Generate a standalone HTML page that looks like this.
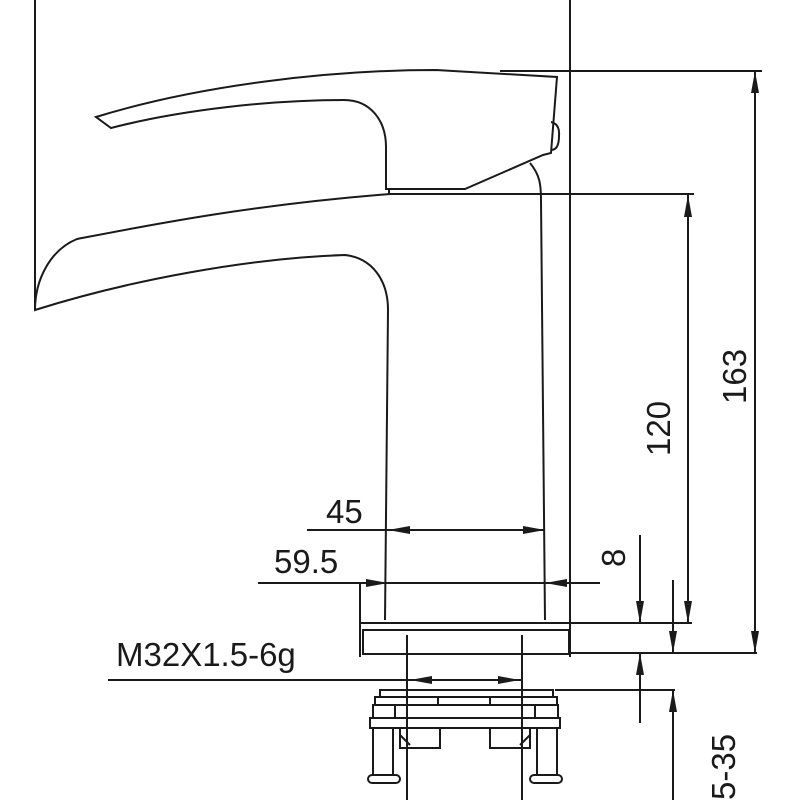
<!DOCTYPE html>
<html><head><meta charset="utf-8"><style>
html,body{margin:0;padding:0;background:#fff}
svg{display:block}
text{font-family:"Liberation Sans",sans-serif;fill:#1a1a1a}
</style></head><body>
<svg width="800" height="800" viewBox="0 0 800 800" xmlns="http://www.w3.org/2000/svg">
<defs>
<marker id="a" viewBox="0 0 22 8" refX="22" refY="4" markerWidth="22" markerHeight="8" orient="auto" markerUnits="userSpaceOnUse" preserveAspectRatio="none">
<path d="M0,0 L22,4 L0,8 z" fill="#1a1a1a"/></marker>
</defs>
<g fill="none" stroke="#1a1a1a" stroke-width="2">
<line x1="35" y1="0" x2="35" y2="310"/>
<line x1="570" y1="0" x2="570" y2="657"/>
<line x1="500" y1="71" x2="762" y2="71"/>
<line x1="390" y1="194" x2="694" y2="194"/>
<path d="M96,117 C200,85 330,70 436,70 L557,77 L551,153 L543,155 L465,189 L386,189 L386,147 C386,120 370,100 344,100 C270,100 180,110 111,128 Z"/>
<path d="M551,122 Q560,124 559,136 Q559,150 551,150"/>
<path d="M390,194 C250,205 150,225 77,239 C50,250 35,280 35,310 C130,280 250,258 345,255 C372,258 388,280 388,310 L385,620"/>
<path d="M530,163 C540,175 541,185 541,200 L545,620"/>
<line x1="389" y1="189" x2="389" y2="194"/>
<line x1="360" y1="583" x2="360" y2="657"/>
<line x1="360" y1="623" x2="692" y2="623"/>
<rect x="363" y="630" width="206" height="24"/>
<line x1="570" y1="653" x2="757" y2="653"/>
<line x1="407" y1="635" x2="407" y2="800"/>
<line x1="522" y1="635" x2="522" y2="800"/>
<rect x="380" y="690" width="173" height="7"/>
<path d="M375,705 L375,697 L438,697 L438,705 M490,705 L490,697 L557,697 L557,705"/>
<rect x="373" y="705" width="185" height="13"/>
<rect x="370" y="718" width="190" height="10"/>
<line x1="395" y1="705" x2="395" y2="718"/><line x1="535" y1="705" x2="535" y2="718"/>
<rect x="373" y="728" width="20" height="47"/>
<rect x="537" y="728" width="20" height="47"/>
<rect x="368" y="775" width="32" height="8" rx="4"/>
<rect x="530" y="775" width="32" height="8" rx="4"/>
<path d="M400,728 L400,748 L440,748 L440,728 M400,735 L410,745"/>
<path d="M490,728 L490,748 L530,748 L530,728 M530,735 L520,745"/>
<line x1="307" y1="530" x2="545" y2="530"/>
<line x1="450" y1="530" x2="388" y2="530" marker-end="url(#a)"/>
<line x1="470" y1="530" x2="545" y2="530" marker-end="url(#a)"/>
<line x1="258" y1="583" x2="572" y2="583"/>
<line x1="300" y1="583" x2="388" y2="583" marker-end="url(#a)"/>
<line x1="600" y1="583" x2="545" y2="583" marker-end="url(#a)"/>
<line x1="108" y1="680" x2="522" y2="680"/>
<line x1="465" y1="680" x2="410" y2="680" marker-end="url(#a)"/>
<line x1="465" y1="680" x2="520" y2="680" marker-end="url(#a)"/>
<line x1="755" y1="371" x2="755" y2="71" marker-end="url(#a)"/>
<line x1="755" y1="371" x2="755" y2="653" marker-end="url(#a)"/>
<line x1="688" y1="410" x2="688" y2="195" marker-end="url(#a)"/>
<line x1="688" y1="410" x2="688" y2="623" marker-end="url(#a)"/>
<line x1="640" y1="535" x2="640" y2="623" marker-end="url(#a)"/>
<line x1="640" y1="723" x2="640" y2="653" marker-end="url(#a)"/>
<line x1="673" y1="580" x2="673" y2="653" marker-end="url(#a)"/>
<line x1="673" y1="800" x2="673" y2="690" marker-end="url(#a)"/>
<line x1="555" y1="690" x2="675" y2="690"/>
</g>
<g font-size="33">
<text x="326" y="523">45</text>
<text x="274" y="573">59.5</text>
<text x="116" y="666">M32X1.5-6g</text>
<text transform="translate(746,404) rotate(-90)">163</text>
<text transform="translate(670,456) rotate(-90)">120</text>
<text transform="translate(625,567) rotate(-90)">8</text>
<text transform="translate(735,800) rotate(-90)">5-35</text>
</g>
</svg>
</body></html>
